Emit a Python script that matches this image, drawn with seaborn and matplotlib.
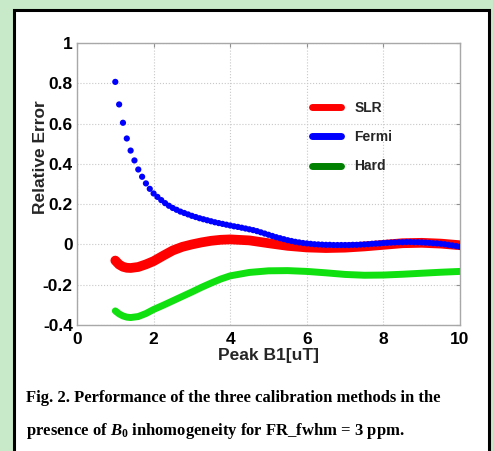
import numpy as np
import pandas as pd
import matplotlib
matplotlib.use("Agg")
import matplotlib.pyplot as plt
from matplotlib.lines import Line2D
from matplotlib.patches import Rectangle
import seaborn as sns

# ---------------- data ----------------
fermi_x = np.linspace(1.0, 10.0, 91)
fermi_y = [0.807, 0.695, 0.604, 0.526, 0.466, 0.417, 0.372, 0.336, 0.303, 0.276,
           0.253, 0.236, 0.220, 0.205, 0.192, 0.181, 0.172, 0.163, 0.156, 0.149,
           0.142, 0.136, 0.130, 0.125, 0.120, 0.115, 0.110, 0.106, 0.102, 0.098,
           0.094, 0.090, 0.087, 0.083, 0.079, 0.075, 0.071, 0.066, 0.060, 0.054,
           0.048, 0.042, 0.036, 0.031, 0.026, 0.021, 0.017, 0.013, 0.010, 0.007,
           0.005, 0.003, 0.001, 0.000, -0.001, -0.002, -0.002, -0.003, -0.003, -0.003,
           -0.003, -0.003, -0.002, -0.002, -0.001, 0.000, 0.001, 0.003, 0.004, 0.005,
           0.007, 0.008, 0.009, 0.010, 0.011, 0.011, 0.012, 0.012, 0.011, 0.011,
           0.010, 0.009, 0.008, 0.006, 0.005, 0.003, 0.001, -0.002, -0.005, -0.008,
           -0.011]

curve_x = [1.0, 1.1, 1.2, 1.3, 1.4, 1.6, 1.8, 2.0, 2.25, 2.5, 2.75, 3.0, 3.25, 3.5,
           3.75, 4.0, 4.5, 5.0, 5.5, 6.0, 6.5, 7.0, 7.5, 8.0, 8.5, 9.0, 9.5, 10.0]
slr_y = [-0.080, -0.100, -0.111, -0.116, -0.117, -0.112, -0.099, -0.083, -0.056, -0.030,
         -0.012, 0.000, 0.010, 0.018, 0.023, 0.025, 0.020, 0.006, -0.007, -0.015,
         -0.018, -0.016, -0.010, -0.002, 0.006, 0.008, 0.004, -0.004]
hard_y = [-0.330, -0.345, -0.355, -0.361, -0.363, -0.358, -0.343, -0.323, -0.302, -0.280,
          -0.258, -0.236, -0.213, -0.192, -0.172, -0.156, -0.139, -0.131, -0.130, -0.134,
          -0.141, -0.149, -0.153, -0.152, -0.148, -0.143, -0.138, -0.134]

legend_labels = ["SLR", "Fermi", "Hard"]
x_ticks = [0, 2, 4, 6, 8, 10]
y_ticks = [-0.4, -0.2, 0, 0.2, 0.4, 0.6, 0.8, 1]
y_tick_labels = ["-0.4", "-0.2", "0", "0.2", "0.4", "0.6", "0.8", "1"]

caption1 = "Fig. 2. Performance of the three calibration methods in the"
caption2 = r"presence of $B_0$ inhomogeneity for FR_fwhm = 3 ppm."

# ---------------- style ----------------
sns.set_style("white")
plt.rcParams["font.family"] = ["Liberation Sans", "DejaVu Sans"]
plt.rcParams["mathtext.fontset"] = "custom"
plt.rcParams["mathtext.it"] = "Liberation Serif:italic:bold"
plt.rcParams["mathtext.rm"] = "Liberation Serif:bold"

W, H = 493, 451
fig = plt.figure(figsize=(W / 100, H / 100), dpi=100)
fig.patch.set_facecolor("#c8eac8")

# white panel with black frame
frame = Rectangle((14 / W, -0.05), (489 - 14) / W, 1.05 - 10 / H,
                  transform=fig.transFigure, facecolor="white",
                  edgecolor="black", linewidth=2.2, zorder=-10)
fig.patches.append(frame)

ax = fig.add_axes([77 / W, 126 / H, (460 - 77) / W, (325 - 43) / H])
ax.set_zorder(5)
ax.set_facecolor("white")

df_slr = pd.DataFrame({"x": curve_x, "y": slr_y})
df_hard = pd.DataFrame({"x": curve_x, "y": hard_y})
df_fermi = pd.DataFrame({"x": fermi_x, "y": fermi_y})

sns.lineplot(data=df_slr, x="x", y="y", ax=ax, color="#ff0000", linewidth=7.0,
             solid_capstyle="round", sort=False, zorder=3)
sns.lineplot(data=df_hard, x="x", y="y", ax=ax, color="#10e010", linewidth=5.0,
             solid_capstyle="round", sort=False, zorder=3)
sns.scatterplot(data=df_fermi, x="x", y="y", ax=ax, color="#0000ff", s=20,
                edgecolor="none", linewidth=0, zorder=4)

ax.set_xlim(0, 10)
ax.set_ylim(-0.4, 1)
ax.set_xticks(x_ticks)
ax.set_xticklabels([str(t) for t in x_ticks])
ax.set_yticks(y_ticks)
ax.set_yticklabels(y_tick_labels)

ax.grid(True, color="#c8c8c8", linestyle=":", linewidth=0.8)
for sp in ax.spines.values():
    sp.set_color("#a8a8a8")
    sp.set_linewidth(1.0)
ax.tick_params(direction="in", length=3, color="#909090", top=True, right=True,
               labelsize=12.5, labelcolor="black")
ax.tick_params(axis="x", pad=5)
ax.tick_params(axis="y", pad=3)
for lab in ax.get_xticklabels() + ax.get_yticklabels():
    lab.set_fontweight("bold")

ax.set_xlabel("Peak B1[uT]", fontsize=12.5, fontweight="bold", labelpad=1)
ax.set_ylabel("Relative Error", fontsize=12.5, fontweight="bold", labelpad=2)
ax.yaxis.set_label_coords(-0.075, 0.596)

handles = [Line2D([0], [0], color=c, linewidth=5.0) for c in ["#ff0000", "#0000ff", "#008000"]]
leg = ax.legend(handles, legend_labels, loc="upper left", bbox_to_anchor=(0.614, 0.795),
                frameon=False, fontsize=10, handlelength=2.1, handletextpad=0.95,
                labelspacing=1.1, borderpad=0, borderaxespad=0)
for t in leg.get_texts():
    t.set_fontweight("bold")

fig.text(26 / W, 1 - 402 / H, caption1, fontsize=12, fontweight="bold", color="black",
         family=["Liberation Serif", "DejaVu Serif"], va="baseline", ha="left")
fig.text(26 / W, 1 - 435 / H, caption2, fontsize=12, fontweight="bold", color="black",
         family=["Liberation Serif", "DejaVu Serif"], va="baseline", ha="left")

fig.savefig("out.png", dpi=100, facecolor=fig.get_facecolor())
